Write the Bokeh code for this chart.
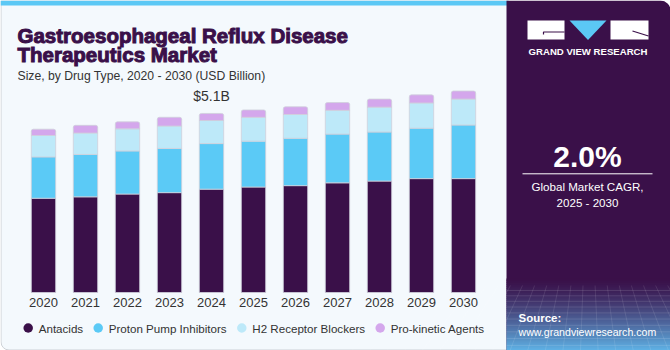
from bokeh.plotting import figure
from bokeh.models import Range1d, ColumnDataSource
from bokeh.core.properties import value
from bokeh.embed import file_html
from bokeh.resources import INLINE

# ---------------- data ----------------
years = [2020, 2021, 2022, 2023, 2024, 2025, 2026, 2027, 2028, 2029, 2030]
year_labels = [str(y) for y in years]
antacids = [2.69, 2.73, 2.81, 2.85, 2.95, 3.01, 3.05, 3.13, 3.18, 3.25, 3.25]
ppi = [1.18, 1.21, 1.23, 1.26, 1.30, 1.31, 1.35, 1.39, 1.40, 1.44, 1.53]
h2 = [0.61, 0.61, 0.63, 0.64, 0.66, 0.68, 0.68, 0.68, 0.71, 0.72, 0.74]
prokinetic = [0.18, 0.22, 0.20, 0.25, 0.20, 0.21, 0.22, 0.22, 0.23, 0.23, 0.23]
series_keys = ["antacids", "ppi", "h2", "prokinetic"]
series_names = ["Antacids", "Proton Pump Inhibitors", "H2 Receptor Blockers", "Pro-kinetic Agents"]
series_colors = ["#3a1049", "#5bcaf6", "#bde9f9", "#d4a7ec"]
highlight_year = 2024
highlight_label = "$5.1B"
cagr_value = "2.0%"
cagr_label = ["Global Market CAGR,", "2025 - 2030"]
title_lines = ["Gastroesophageal Reflux Disease", "Therapeutics Market"]
subtitle = "Size, by Drug Type, 2020 - 2030 (USD Billion)"

# ---------------- layout ----------------
W, H = 670, 350
x0_px, step_px = 43.0, 42.0          # pixel centre of first bar, spacing
base_px, px_per_unit = 292.0, 35.04  # baseline (from top), pixels per USD bn

x_range = Range1d(years[0] - x0_px / step_px, years[0] + (W - x0_px) / step_px)
y_range = Range1d(-(H - base_px) / px_per_unit, base_px / px_per_unit)

p = figure(width=W, height=H, x_range=x_range, y_range=y_range,
           output_backend="svg", toolbar_location=None, min_border=0,
           x_axis_location=None, y_axis_location=None)
p.grid.visible = False
p.outline_line_color = None
p.background_fill_color = "#ffffff"
p.border_fill_color = "#ffffff"
p.extra_x_ranges = {"px": Range1d(0, W)}
p.extra_y_ranges = {"px": Range1d(H, 0)}
PX = dict(x_range_name="px", y_range_name="px")

FONT = value("Liberation Sans")
DARK = "#3a1049"
TXT = "#333333"

# left panel background
p.quad(left=[0.5], right=[508], top=[0.5], bottom=[349.5], fill_color="#f4f9fd",
       line_color="#cdd1d6", line_width=1, border_radius=(0, 0, 0, 8), **PX)
p.quad(left=[0], right=[508], top=[0], bottom=[5], fill_color="#5bc8f5",
       line_color=None, **PX)

# right panel
p.quad(left=[506], right=[670], top=[0], bottom=[350], fill_color=DARK,
       line_color=None, border_radius=(0, 10, 0, 0), **PX)
# bottom gradient of right panel
n = 36
y_start, y_end = 278.0, 350.0
c0 = (0x3a, 0x10, 0x49)
c1 = (0x5f, 0xb2, 0xe6)
for i in range(n):
    t = (i + 0.5) / n
    t2 = t ** 1.3
    c = "#%02x%02x%02x" % tuple(int(a + (b - a) * t2) for a, b in zip(c0, c1))
    ya = y_start + (y_end - y_start) * i / n
    yb = y_start + (y_end - y_start) * (i + 1) / n + 0.5
    p.quad(left=[506], right=[670], top=[ya], bottom=[yb], fill_color=c,
           line_color=None, **PX)
# faint grid texture
for k in range(12):
    yy = 290 + k * 5.2 + k * k * 0.1
    p.line(x=[506, 670], y=[yy, yy], line_color="#ffffff", line_alpha=0.12, line_width=1, **PX)
for k in range(-6, 20):
    xa = 506 + k * 11
    p.line(x=[xa + (xa - 588) * 0.1, xa + (xa - 588) * 0.6], y=[285, 350],
           line_color="#ffffff", line_alpha=0.10, line_width=1, **PX)

# ---------------- bars ----------------
src = ColumnDataSource(dict(year=years, label=year_labels, antacids=antacids,
                            ppi=ppi, h2=h2, prokinetic=prokinetic))
rs = p.vbar_stack(series_keys, x="year", width=0.58, color=series_colors,
                  line_color="#cfd0dc", line_width=0.8, source=src)
rs[-1].glyph.border_radius = (2, 2, 0, 0)

# year labels
p.text(x="year", y=0, text="label", source=src, y_offset=10,
       text_align="center", text_baseline="middle", text_font=FONT,
       text_font_size="13px", text_color=TXT)

# highlight total
hi = years.index(highlight_year)
total_hi = antacids[hi] + ppi[hi] + h2[hi] + prokinetic[hi]
p.text(x=[highlight_year], y=[total_hi], text=[highlight_label], y_offset=-9,
       text_align="center", text_baseline="bottom", text_font=FONT,
       text_font_size="14px", text_color=TXT)

# ---------------- titles ----------------
p.text(x=[17, 17], y=[35, 54], text=title_lines, text_font=FONT,
       text_font_style="bold", text_font_size="20.5px", text_color=DARK,
       text_outline_color=DARK, text_baseline="alphabetic", **PX)
p.text(x=[17], y=[75], text=[subtitle], text_font=FONT, text_font_size="12.2px",
       text_color=TXT, text_baseline="alphabetic", **PX)

# ---------------- legend ----------------
leg_x = [27.7, 97.7, 241.3, 379.7]
leg_y = 327.5
p.scatter(x=leg_x, y=[leg_y] * 4, size=9.5, color=series_colors, line_color=None, **PX)
p.text(x=[lx + 10.5 for lx in leg_x], y=[leg_y] * 4, text=series_names,
       text_font=FONT, text_font_size="11.6px", text_color=TXT,
       text_baseline="middle", **PX)

# ---------------- right panel content ----------------
# logo
p.quad(left=[527, 610], right=[564, 648], top=[20, 20], bottom=[39, 39],
       fill_color="#ffffff", line_color=None, **PX)
p.patch(x=[569, 606, 587.5], y=[20, 20, 39.5], fill_color="#5bc8f5", line_color=None, **PX)
p.line(x=[543, 543, 564], y=[34, 31.5, 31.5], line_color=DARK, line_width=1.2, **PX)
p.line(x=[632, 648], y=[30.5, 35.5], line_color=DARK, line_width=1.2, **PX)
p.text(x=[587.5], y=[51], text=["GRAND VIEW RESEARCH"], text_font=FONT,
       text_font_style="bold", text_font_size="9.6px", text_color="#ffffff",
       text_align="center", text_baseline="middle", **PX)

p.text(x=[587], y=[156], text=[cagr_value], text_font=FONT, text_font_style="bold",
       text_font_size="30px", text_color="#ffffff", text_align="center",
       text_baseline="middle", **PX)
p.line(x=[522, 652], y=[173.3, 173.3], line_color="#ffffff", line_width=1, **PX)
p.text(x=[587, 587], y=[186, 202], text=cagr_label, text_font=FONT,
       text_font_size="11.6px", text_color="#ffffff", text_align="center",
       text_baseline="middle", **PX)
p.text(x=[518], y=[317], text=["Source:"], text_font=FONT, text_font_style="bold",
       text_font_size="11.5px", text_color="#ffffff", text_baseline="middle", **PX)
p.text(x=[518], y=[331], text=["www.grandviewresearch.com"], text_font=FONT,
       text_font_size="10.6px", text_color="#ffffff", text_baseline="middle", **PX)

open("out.html", "w").write(file_html(p, INLINE))
